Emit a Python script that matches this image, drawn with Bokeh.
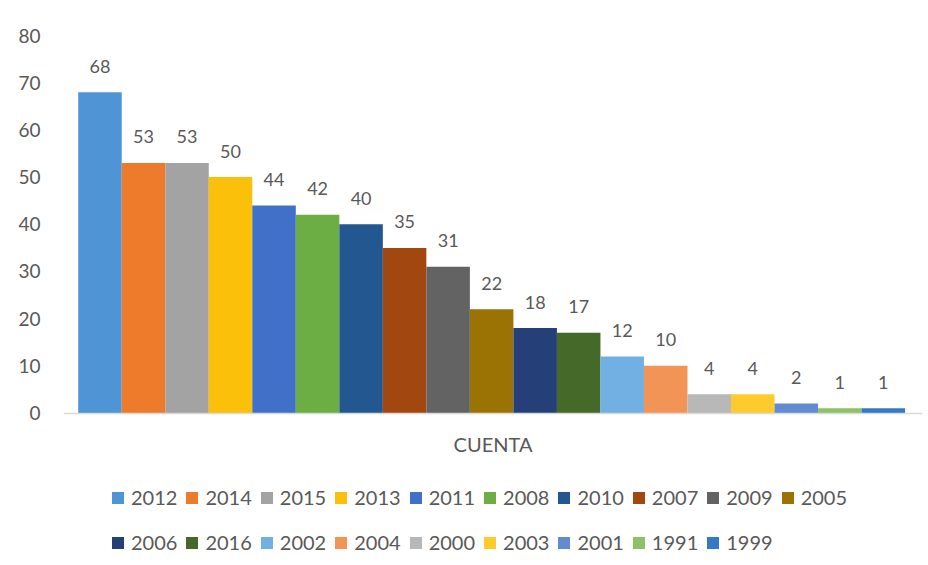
from bokeh.plotting import figure
from bokeh.models import Range1d, FixedTicker, Legend, LegendItem, ColumnDataSource
from bokeh.core.properties import value
from bokeh.embed import file_html
from bokeh.resources import INLINE

years = ["2012", "2014", "2015", "2013", "2011", "2008", "2010", "2007", "2009", "2005",
         "2006", "2016", "2002", "2004", "2000", "2003", "2001", "1991", "1999"]
counts = [68, 53, 53, 50, 44, 42, 40, 35, 31, 22, 18, 17, 12, 10, 4, 4, 2, 1, 1]
colors = ["#4F95D6", "#EE7A2C", "#A3A3A3", "#FBC00A", "#4170C8", "#6CAE44", "#22588F",
          "#A2470F", "#636363", "#9B7304", "#254078", "#446929", "#72AFE2", "#F29455",
          "#B8B8B8", "#FDCB2C", "#628BD2", "#8CC165", "#3478C8"]
y_ticks = [0, 10, 20, 30, 40, 50, 60, 70, 80]
x_title = "CUENTA"

pos = list(range(len(years)))
src = ColumnDataSource(dict(x=pos, top=counts, color=colors, year=years,
                            label=[str(c) for c in counts]))

FONT = "Lato"
GRAY = "#595959"

# frame extends below the baseline so the legend rows can sit inside it
p = figure(width=928, height=565, output_backend="svg", toolbar_location=None,
           x_range=Range1d(-0.838, 18.9), y_range=Range1d(-32.3, 80),
           min_border_left=63, min_border_right=6, min_border_top=35,
           min_border_bottom=0)
p.outline_line_color = None
p.xgrid.visible = False
p.ygrid.visible = False
p.background_fill_color = "white"
p.border_fill_color = "white"

bars = p.vbar(x="x", top="top", width=1.0, bottom=0, fill_color="color",
              line_color=None, source=src)

p.text(x="x", y="top", text="label", source=src, text_align="center",
       text_baseline="middle", y_offset=-26, text_font=value(FONT),
       text_font_size="18px", text_color=GRAY)

# y axis
p.yaxis.ticker = FixedTicker(ticks=y_ticks)
p.yaxis.axis_line_color = None
p.yaxis.major_tick_line_color = None
p.yaxis.minor_tick_line_color = None
p.yaxis.major_tick_out = 0
p.yaxis.major_tick_in = 0
p.yaxis.major_label_standoff = 23
p.yaxis.major_label_text_font = FONT
p.yaxis.major_label_text_font_size = "19px"
p.yaxis.major_label_text_color = GRAY

# x axis, drawn at the value 0
p.xaxis.fixed_location = 0
p.xaxis.ticker = FixedTicker(ticks=[])
p.xaxis.axis_line_color = "#D9D9D9"
p.xaxis.axis_line_width = 1.5
p.xaxis.major_tick_line_color = None
p.xaxis.minor_tick_line_color = None
p.xaxis.major_tick_out = 0
p.xaxis.major_label_standoff = 0
p.xaxis.axis_label = x_title
p.xaxis.axis_label_standoff = 18
p.xaxis.axis_label_text_font = FONT
p.xaxis.axis_label_text_font_size = "20px"
p.xaxis.axis_label_text_font_style = "normal"
p.xaxis.axis_label_text_color = GRAY

def make_legend(idx, loc):
    items = [LegendItem(label=years[i], renderers=[bars], index=i) for i in idx]
    lg = Legend(items=items, orientation="horizontal", location=loc,
                glyph_width=15, glyph_height=15, label_standoff=6, spacing=7,
                padding=0, margin=0, border_line_color=None,
                background_fill_alpha=0, label_text_font=FONT,
                label_text_font_size="20px", label_text_color=GRAY,
                label_height=15)
    return lg

row1 = list(range(0, 10))
row2 = list(range(10, len(years)))
p.add_layout(make_legend(row1, (47, 56)), "center")
p.add_layout(make_legend(row2, (47, 11)), "center")

open("out.html", "w").write(file_html(p, INLINE))
